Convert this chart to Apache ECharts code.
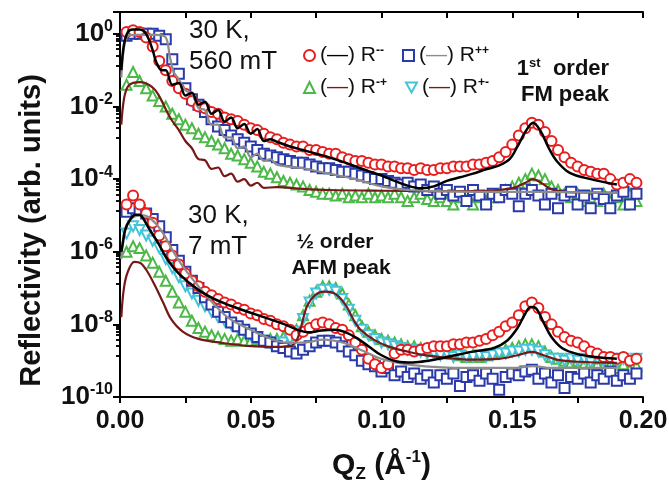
<!DOCTYPE html>
<html>
<head>
<meta charset="utf-8">
<script src="https://cdn.jsdelivr.net/npm/echarts@6/dist/echarts.min.js"></script>
<style>
  html, body { margin: 0; padding: 0; background: #fff; }
  #chart { width: 669px; height: 483px; }
</style>
</head>
<body>
<div id="chart"></div>
<script>
// Q grid (1/Å) of the measured points
const qData = [0.0025, 0.005, 0.0075, 0.01, 0.0125, 0.015, 0.0175, 0.02, 0.0225, 0.025,
  0.0275, 0.03, 0.0325, 0.035, 0.0375, 0.04, 0.0425, 0.045, 0.0475, 0.05,
  0.0525, 0.055, 0.0575, 0.06, 0.0625, 0.065, 0.0675, 0.07, 0.0725, 0.075,
  0.0775, 0.08, 0.0825, 0.085, 0.0875, 0.09, 0.0925, 0.095, 0.0975, 0.1,
  0.1025, 0.105, 0.1075, 0.11, 0.1125, 0.115, 0.1175, 0.12, 0.1225, 0.125,
  0.1275, 0.13, 0.1325, 0.135, 0.1375, 0.14, 0.1425, 0.145, 0.1475, 0.15,
  0.1525, 0.155, 0.1575, 0.16, 0.1625, 0.165, 0.1675, 0.17, 0.1725, 0.175,
  0.1775, 0.18, 0.1825, 0.185, 0.1875, 0.19, 0.1925, 0.195, 0.1975];

// measured reflectivity, stored as log10(R)
// 30 K, 560 mT
const topRmm = [0.05, 0.1, 0.05, -0.1, -0.35, -0.75, -1.0, -1.3, -1.5, -1.65,
  -1.85, -2.0, -2.05, -2.15, -2.2, -2.3, -2.35, -2.4, -2.5, -2.6,
  -2.65, -2.75, -2.85, -2.9, -3.0, -3.05, -3.1, -3.1, -3.2, -3.2,
  -3.25, -3.3, -3.3, -3.4, -3.45, -3.5, -3.5, -3.55, -3.6, -3.6,
  -3.65, -3.65, -3.7, -3.7, -3.75, -3.7, -3.75, -3.75, -3.7, -3.7,
  -3.65, -3.65, -3.65, -3.6, -3.6, -3.55, -3.5, -3.4, -3.25, -3.05,
  -2.8, -2.6, -2.45, -2.5, -2.7, -2.95, -3.2, -3.4, -3.55, -3.65,
  -3.75, -3.8, -3.85, -3.85, -4.0, -4.15, -4.1, -4.0, -4.1];
const topRpp = [-0.05, 0.0, 0.0, 0.0, 0.0, -0.05, -0.15, -0.7, -1.1, -1.5,
  -1.8, -1.95, -2.15, -2.35, -2.55, -2.65, -2.8, -2.9, -3.0, -3.1,
  -3.2, -3.3, -3.35, -3.4, -3.45, -3.5, -3.55, -3.55, -3.6, -3.65,
  -3.7, -3.7, -3.75, -3.8, -3.8, -3.85, -3.9, -3.95, -4.0, -4.0,
  -4.05, -4.1, -4.15, -4.1, -4.2, -4.15, -4.3, -4.2, -4.4, -4.3,
  -4.45, -4.35, -4.6, -4.3, -4.45, -4.7, -4.4, -4.5, -4.3, -4.4,
  -4.75, -4.4, -4.3, -4.45, -4.7, -4.4, -4.8, -4.45, -4.35, -4.7,
  -4.45, -4.8, -4.4, -4.55, -4.8, -4.45, -4.35, -4.7, -4.4];
const topRmp = [-1.4, -1.05, -1.3, -1.5, -1.7, -1.85, -2.0, -2.2, -2.35, -2.5,
  -2.6, -2.75, -2.85, -2.95, -3.05, -3.15, -3.3, -3.35, -3.45, -3.55,
  -3.65, -3.8, -3.85, -3.95, -4.05, -4.1, -4.15, -4.2, -4.3, -4.35,
  -4.4, -4.4, -4.45, -4.4, -4.5, -4.45, -4.5, -4.4, -4.5, -4.45,
  -4.5, -4.4, -4.5, -4.6, -4.5, -4.4, -4.55, -4.6, -4.5, -4.6,
  -4.7, -4.5, -4.6, -4.7, -4.5, -4.6, -4.5, -4.4, -4.3, -4.2,
  -4.1, -4.0, -3.85, -3.9, -4.0, -4.2, -4.3, -4.4, -4.5, -4.4,
  -4.6, -4.5, -4.6, -4.4, -4.6, -4.5, -4.7, -4.4, -4.6];

// 30 K, 7 mT
const botRmm = [-4.7, -4.45, -4.7, -4.95, -5.2, -5.55, -5.85, -6.1, -6.35, -6.6,
  -6.8, -6.95, -7.1, -7.2, -7.3, -7.4, -7.45, -7.55, -7.6, -7.7,
  -7.75, -7.85, -7.9, -8.0, -8.05, -8.15, -8.3, -8.2, -8.1, -8.0,
  -7.95, -8.0, -8.1, -8.15, -8.3, -8.5, -8.7, -8.95, -9.1, -9.2,
  -9.1, -8.8, -8.7, -8.7, -8.75, -8.7, -8.65, -8.6, -8.6, -8.6,
  -8.55, -8.55, -8.5, -8.5, -8.45, -8.4, -8.3, -8.2, -8.05, -7.95,
  -7.75, -7.5, -7.4, -7.55, -7.8, -8.0, -8.2, -8.35, -8.45, -8.5,
  -8.6, -8.75, -8.8, -8.9, -8.9, -8.95, -8.9, -9.0, -8.95];
const botRpp = [-4.9, -4.8, -4.85, -4.95, -5.1, -5.3, -5.6, -5.95, -6.25, -6.55,
  -6.8, -7.0, -7.25, -7.45, -7.65, -7.8, -7.95, -8.05, -8.15, -8.25,
  -8.35, -8.45, -8.5, -8.6, -8.65, -8.75, -8.8, -8.7, -8.6, -8.5,
  -8.45, -8.45, -8.5, -8.6, -8.75, -8.85, -9.0, -9.1, -9.15, -9.3,
  -9.2, -9.4, -9.3, -9.45, -9.35, -9.5, -9.4, -9.6, -9.4, -9.5,
  -9.35, -9.7, -9.45, -9.4, -9.55, -9.35, -9.5, -9.8, -9.45, -9.35,
  -9.4, -9.3, -9.25, -9.5, -9.35, -9.6, -9.4, -9.75, -9.45, -9.5,
  -9.35, -9.6, -9.4, -9.5, -9.3, -9.55, -9.4, -9.5, -9.35];
const botRmp = [-6.0, -5.85, -5.9, -6.1, -6.3, -6.55, -6.8, -7.1, -7.4, -7.65,
  -7.9, -8.1, -8.2, -8.3, -8.35, -8.4, -8.45, -8.4, -8.45, -8.45,
  -8.4, -8.45, -8.4, -8.4, -8.35, -8.3, -8.15, -7.75, -7.35, -7.1,
  -6.95, -6.95, -7.0, -7.15, -7.45, -7.75, -8.05, -8.2, -8.3, -8.4,
  -8.45, -8.5, -8.55, -8.6, -8.6, -8.65, -8.7, -8.7, -8.75, -8.8,
  -8.8, -8.85, -8.9, -8.85, -8.9, -8.85, -8.8, -8.75, -8.7, -8.65,
  -8.6, -8.55, -8.55, -8.6, -8.75, -8.9, -8.95, -9.0, -9.05, -9.0,
  -9.1, -9.05, -9.1, -9.15, -9.1, -9.2, -9.1, -9.25, -9.15];
const botRpm = [-5.5, -5.3, -5.4, -5.55, -5.7, -5.9, -6.2, -6.45, -6.7, -6.95,
  -7.15, -7.35, -7.5, -7.65, -7.8, -7.9, -8.0, -8.1, -8.2, -8.3,
  -8.35, -8.45, -8.5, -8.55, -8.5, -8.4, -8.2, -7.85, -7.4, -7.15,
  -7.05, -7.05, -7.1, -7.3, -7.6, -7.9, -8.15, -8.3, -8.4, -8.5,
  -8.55, -8.6, -8.65, -8.7, -8.7, -8.75, -8.8, -8.8, -8.85, -8.8,
  -8.9, -8.85, -8.9, -8.9, -8.85, -8.9, -8.85, -8.8, -8.8, -8.75,
  -8.75, -8.7, -8.7, -8.75, -8.85, -8.95, -8.95, -9.0, -8.95, -9.0,
  -8.95, -9.05, -8.95, -9.0, -8.95, -9.05, -8.95, -9.0, -8.95];

// fitted curves, log10(R)
const topFitMmQ = [0.0005, 0.0015, 0.003, 0.005, 0.0075, 0.0095, 0.011, 0.0125, 0.014, 0.016,
  0.0175, 0.02, 0.0225, 0.025, 0.0275, 0.03, 0.0325, 0.035, 0.0375, 0.04,
  0.0425, 0.045, 0.0475, 0.05, 0.0525, 0.055, 0.0575, 0.06, 0.065, 0.07,
  0.075, 0.08, 0.085, 0.09, 0.095, 0.1, 0.105, 0.11, 0.115, 0.12,
  0.125, 0.13, 0.135, 0.14, 0.145, 0.149, 0.152, 0.155, 0.158, 0.161,
  0.164, 0.167, 0.172, 0.18, 0.19];
const topFitMm = [-1.0, -0.3, 0.05, 0.12, 0.12, 0.05, -0.15, -0.45, -0.8, -1.0,
  -1.0, -1.4, -1.35, -1.7, -1.62, -1.95, -1.87, -2.2, -2.1, -2.42,
  -2.3, -2.6, -2.48, -2.75, -2.62, -2.95, -2.9, -2.97, -3.1, -3.2,
  -3.3, -3.4, -3.52, -3.65, -3.78, -3.9, -4.05, -4.18, -4.25, -4.2,
  -4.05, -3.95, -3.85, -3.73, -3.62, -3.45, -3.1, -2.7, -2.45, -2.7,
  -3.15, -3.5, -3.83, -4.0, -4.15];
const topFitPpQ = [0.0005, 0.0015, 0.003, 0.006, 0.01, 0.014, 0.0175, 0.019, 0.0205, 0.0225,
  0.025, 0.0275, 0.03, 0.0325, 0.035, 0.0375, 0.04, 0.0425, 0.045, 0.0475,
  0.05, 0.0525, 0.055, 0.0575, 0.06, 0.07, 0.08, 0.09, 0.1, 0.11,
  0.12, 0.14, 0.16, 0.19];
const topFitPp = [-1.2, -0.4, -0.05, -0.03, -0.03, -0.03, -0.1, -0.6, -1.05, -1.25,
  -1.55, -1.65, -2.05, -2.1, -2.5, -2.5, -2.85, -2.85, -3.15, -3.1,
  -3.4, -3.3, -3.5, -3.45, -3.6, -3.7, -3.85, -4.0, -4.2, -4.3,
  -4.33, -4.35, -4.35, -4.38];
const topFitMpQ = [0.0005, 0.0015, 0.003, 0.005, 0.008, 0.011, 0.0135, 0.016, 0.018, 0.02,
  0.0225, 0.025, 0.0275, 0.03, 0.0325, 0.035, 0.0375, 0.04, 0.0425, 0.045,
  0.0475, 0.05, 0.0525, 0.055, 0.06, 0.07, 0.08, 0.1, 0.12, 0.14,
  0.15, 0.155, 0.158, 0.161, 0.165, 0.17, 0.18, 0.19];
const topFitMp = [-2.5, -1.8, -1.45, -1.35, -1.33, -1.4, -1.55, -1.85, -2.15, -2.4,
  -2.65, -2.95, -3.15, -3.45, -3.48, -3.72, -3.68, -3.92, -3.85, -4.07,
  -4.0, -4.18, -4.1, -4.24, -4.22, -4.27, -4.3, -4.32, -4.33, -4.33,
  -4.25, -4.1, -4.0, -4.1, -4.28, -4.35, -4.37, -4.38];

const botFitMmQ = [0.0005, 0.001, 0.002, 0.004, 0.006, 0.0075, 0.009, 0.011, 0.0145, 0.018,
  0.0225, 0.03, 0.036, 0.042, 0.05, 0.057, 0.063, 0.068, 0.072, 0.077,
  0.082, 0.087, 0.091, 0.095, 0.1, 0.106, 0.112, 0.118, 0.125, 0.135,
  0.143, 0.148, 0.152, 0.155, 0.157, 0.159, 0.162, 0.165, 0.169, 0.175,
  0.182, 0.19];
const botFitMm = [-6.0, -5.8, -5.4, -5.1, -4.98, -4.98, -5.1, -5.35, -5.75, -6.2,
  -6.6, -7.05, -7.3, -7.48, -7.68, -7.85, -8.0, -8.15, -8.22, -8.17,
  -8.15, -8.24, -8.4, -8.6, -8.85, -9.02, -9.05, -9.0, -8.9, -8.75,
  -8.65, -8.45, -8.1, -7.7, -7.52, -7.55, -7.95, -8.35, -8.65, -8.82,
  -8.9, -8.95];
const botFitPpQ = [0.0005, 0.0015, 0.003, 0.006, 0.009, 0.011, 0.014, 0.017, 0.02, 0.024,
  0.03, 0.036, 0.042, 0.05, 0.056, 0.063, 0.07, 0.078, 0.085, 0.092,
  0.1, 0.11, 0.12, 0.13, 0.15, 0.158, 0.165, 0.19];
const botFitPp = [-6.2, -5.5, -5.2, -5.02, -5.0, -5.05, -5.25, -5.55, -5.95, -6.4,
  -6.95, -7.45, -7.85, -8.15, -8.35, -8.5, -8.5, -8.42, -8.5, -8.7,
  -8.95, -9.1, -9.17, -9.2, -9.2, -9.15, -9.2, -9.2];
const botFitMpQ = [0.0005, 0.0015, 0.003, 0.0055, 0.008, 0.0105, 0.0135, 0.0165, 0.0195, 0.024,
  0.03, 0.04, 0.05, 0.06, 0.065, 0.0675, 0.0695, 0.0715, 0.0745, 0.078,
  0.0815, 0.0845, 0.087, 0.0895, 0.092, 0.097, 0.103, 0.11, 0.116, 0.125,
  0.134, 0.145, 0.152, 0.1575, 0.162, 0.167, 0.175, 0.19];
const botFitMp = [-7.8, -7.0, -6.55, -6.28, -6.32, -6.55, -6.95, -7.4, -7.85, -8.2,
  -8.4, -8.52, -8.6, -8.62, -8.6, -8.45, -8.0, -7.5, -7.2, -7.1,
  -7.13, -7.3, -7.55, -7.9, -8.15, -8.42, -8.62, -8.75, -8.84, -8.92,
  -8.97, -8.95, -8.85, -8.76, -8.85, -8.97, -9.03, -9.06];

const FONT = 'Liberation Sans, Arial, sans-serif';
const RED = '#e81e1e', BLUE = '#2a3aa8', GREEN = '#4cb847', CYAN = '#44c4d8';
const BLACK = '#000000', GRAY = '#8c8c8c', DARKRED = '#761818';
// outline of a downward triangle, used for R+- markers and its legend icon
const DOWN_TRI = 'path://M0,0 L10,0 L5,9 Z';

function pts(qs, logs) {
  return qs.map((q, i) => [q, Math.pow(10, logs[i])]);
}

function scatter(name, symbol, color, logs, fill) {
  return {
    name: name,
    type: 'scatter',
    symbol: symbol,
    symbolSize: 10,
    itemStyle: { color: fill || color, borderColor: color, borderWidth: 2, opacity: 1 },
    data: pts(qData, logs),
    z: 2
  };
}

function fit(name, color, width, qs, logs) {
  return {
    name: name,
    type: 'line',
    smooth: 0.35,
    showSymbol: false,
    lineStyle: { color: color, width: width },
    data: pts(qs, logs),
    z: 5
  };
}

const legendSup = { 'R--': ['dk', '--'], 'R++': ['gy', '++'], 'R-+': ['dr', '-+'], 'R+-': ['dr', '+-'] };
const legendText = {
  fontSize: 21,
  fontFamily: FONT,
  color: '#111',
  rich: {
    dk: { fontSize: 21, fontFamily: FONT, color: BLACK },
    gy: { fontSize: 21, fontFamily: FONT, color: GRAY },
    dr: { fontSize: 21, fontFamily: FONT, color: DARKRED },
    t: { fontSize: 21, fontFamily: FONT, color: '#111' },
    s: { fontSize: 12, fontFamily: FONT, fontWeight: 'bold', color: '#111', verticalAlign: 'top', lineHeight: 12 }
  }
};
function legendFmt(name) {
  const d = legendSup[name];
  return '{t|(}{' + d[0] + '|—}{t|) R}{s|' + d[1] + '}';
}

const chart = echarts.init(document.getElementById('chart'), null, { renderer: 'canvas' });

const tickStyle = { color: '#000', width: 2 };

chart.setOption({
  animation: false,
  backgroundColor: '#ffffff',
  grid: { left: 120, right: 26, top: 12, bottom: 86, outerBoundsMode: 'none' },
  legend: [
    {
      data: ['R--', 'R++'], left: 298, top: 40, itemWidth: 11, itemHeight: 11, itemGap: 18,
      textStyle: legendText, formatter: legendFmt, selectedMode: false
    },
    {
      data: ['R-+', { name: 'R+-', icon: DOWN_TRI, itemStyle: { color: '#fff', borderColor: CYAN, borderWidth: 2 } }],
      left: 298, top: 72, itemWidth: 11, itemHeight: 11, itemGap: 18,
      textStyle: legendText, formatter: legendFmt, selectedMode: false
    }
  ],
  xAxis: [
    {
      type: 'value', min: 0, max: 0.2, interval: 0.05, position: 'bottom',
      axisLine: { lineStyle: { color: '#000', width: 2 } },
      axisTick: { length: 6, lineStyle: tickStyle },
      minorTick: { show: true, splitNumber: 2, length: 6, lineStyle: tickStyle },
      splitLine: { show: false },
      axisLabel: {
        formatter: v => v.toFixed(2), margin: 12, color: '#111',
        fontSize: 25, fontWeight: 'bold', fontFamily: FONT
      },
      name: '{b|Q}{sub|Z}{b| (Å}{sup|-1}{b|)}',
      nameLocation: 'middle', nameGap: 52,
      nameTextStyle: {
        fontSize: 30, fontWeight: 'bold', fontFamily: FONT, color: '#111',
        rich: {
          b: { fontSize: 30, fontWeight: 'bold', fontFamily: FONT, color: '#111', lineHeight: 34 },
          sub: { fontSize: 17, fontWeight: 'bold', fontFamily: FONT, color: '#111', verticalAlign: 'bottom', lineHeight: 17 },
          sup: { fontSize: 17, fontWeight: 'bold', fontFamily: FONT, color: '#111', verticalAlign: 'top', lineHeight: 17 }
        }
      }
    },
    {
      type: 'value', min: 0, max: 0.2, interval: 0.05, position: 'top',
      axisLine: { lineStyle: { color: '#000', width: 2 } },
      axisTick: { inside: true, length: 6, lineStyle: tickStyle },
      minorTick: { show: true, splitNumber: 2, length: 6, lineStyle: tickStyle },
      splitLine: { show: false },
      axisLabel: { show: false }
    }
  ],
  yAxis: [
    {
      type: 'log', logBase: 10, min: 1e-10, max: 4, interval: 2, position: 'left',
      axisLine: { lineStyle: { color: '#000', width: 2 } },
      axisTick: { length: 7, lineStyle: tickStyle },
      minorTick: { show: true, splitNumber: 8, length: 4, lineStyle: { color: '#000', width: 1.5 } },
      splitLine: { show: false },
      axisLabel: {
        showMaxLabel: false, margin: 7, color: '#111',
        formatter: v => {
          const e = Math.round(Math.log10(v));
          return '{b|10}{e|' + e + '}';
        },
        rich: {
          b: { fontSize: 26, fontWeight: 'bold', fontFamily: FONT, color: '#111', lineHeight: 30 },
          e: { fontSize: 16, fontWeight: 'bold', fontFamily: FONT, color: '#111', verticalAlign: 'top', lineHeight: 16 }
        }
      },
      name: 'Reflectivity (arb. units)',
      nameLocation: 'middle', nameGap: 74, nameRotate: 90,
      nameTextStyle: { fontSize: 29, fontWeight: 'bold', fontFamily: FONT, color: '#111', padding: [0, 52, 0, 0] }
    },
    {
      type: 'log', logBase: 10, min: 1e-10, max: 4, interval: 2, position: 'right',
      axisLine: { lineStyle: { color: '#000', width: 2 } },
      axisTick: { inside: true, length: 7, lineStyle: tickStyle },
      minorTick: { show: true, splitNumber: 8, length: 4, lineStyle: { color: '#000', width: 1.5 } },
      splitLine: { show: false },
      axisLabel: { show: false }
    }
  ],
  graphic: [
    { type: 'text', x: 189, y: 31, style: { text: '30 K,', font: '26px ' + FONT, fill: '#111', verticalAlign: 'middle', textVerticalAlign: 'middle' } },
    { type: 'text', x: 189, y: 62, style: { text: '560 mT', font: '26px ' + FONT, fill: '#111', verticalAlign: 'middle', textVerticalAlign: 'middle' } },
    { type: 'text', x: 188, y: 216, style: { text: '30 K,', font: '26px ' + FONT, fill: '#111', verticalAlign: 'middle', textVerticalAlign: 'middle' } },
    { type: 'text', x: 188, y: 247, style: { text: '7 mT', font: '26px ' + FONT, fill: '#111', verticalAlign: 'middle', textVerticalAlign: 'middle' } },
    { type: 'text', x: 335, y: 242, style: { text: '½ order', font: 'bold 21px ' + FONT, fill: '#111', align: 'center', textAlign: 'center', verticalAlign: 'middle', textVerticalAlign: 'middle' } },
    { type: 'text', x: 341, y: 268, style: { text: 'AFM peak', font: 'bold 21px ' + FONT, fill: '#111', align: 'center', textAlign: 'center', verticalAlign: 'middle', textVerticalAlign: 'middle' } },
    {
      type: 'text', x: 563, y: 69,
      style: {
        text: '{a|1}{s|st}{a|  order}', fill: '#111', align: 'center', textAlign: 'center', verticalAlign: 'middle', textVerticalAlign: 'middle',
        rich: {
          a: { fontSize: 22, fontWeight: 'bold', fontFamily: FONT, fill: '#111', lineHeight: 24 },
          s: { fontSize: 13, fontWeight: 'bold', fontFamily: FONT, fill: '#111', verticalAlign: 'top', lineHeight: 13 }
        }
      }
    },
    { type: 'text', x: 565, y: 95, style: { text: 'FM peak', font: 'bold 22px ' + FONT, fill: '#111', align: 'center', textAlign: 'center', verticalAlign: 'middle', textVerticalAlign: 'middle' } }
  ],
  series: [
    scatter('R-+', 'emptyTriangle', GREEN, topRmp),
    scatter('R++', 'emptyRect', BLUE, topRpp),
    scatter('R--', 'emptyCircle', RED, topRmm),
    scatter('R-+', 'emptyTriangle', GREEN, botRmp),
    scatter('R+-', DOWN_TRI, CYAN, botRpm, '#ffffff'),
    scatter('R++', 'emptyRect', BLUE, botRpp),
    scatter('R--', 'emptyCircle', RED, botRmm),
    fit('fit R-+ 560mT', DARKRED, 2.2, topFitMpQ, topFitMp),
    fit('fit R++ 560mT', GRAY, 2.2, topFitPpQ, topFitPp),
    fit('fit R-- 560mT', BLACK, 2.5, topFitMmQ, topFitMm),
    fit('fit R-+ 7mT', DARKRED, 2.2, botFitMpQ, botFitMp),
    fit('fit R++ 7mT', GRAY, 2.2, botFitPpQ, botFitPp),
    fit('fit R-- 7mT', BLACK, 2.5, botFitMmQ, botFitMm)
  ]
});
</script>
</body>
</html>
